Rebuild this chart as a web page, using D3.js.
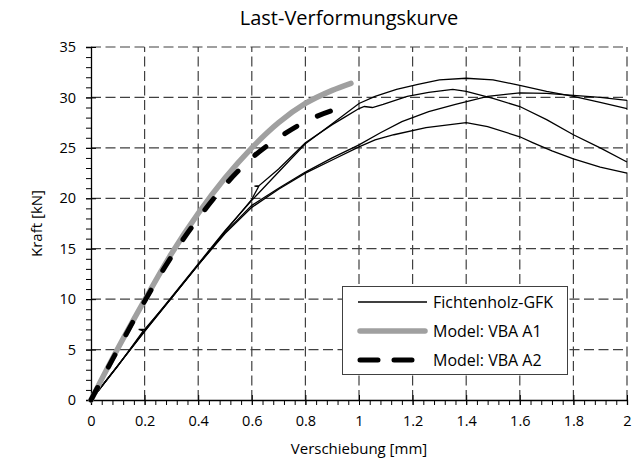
<!DOCTYPE html>
<html>
  <head>
    <meta charset="utf-8">
    <title>Last-Verformungskurve</title>
    <script src="https://cdn.jsdelivr.net/npm/d3@7"></script>
    <style>
      body { margin: 0; background: #fff; }
      text { font-family: "Open Sans", "Noto Sans", sans-serif; fill: #000; }
    </style>
  </head>

  <body>
    <div id="chart"></div>

    <script>
      // measured curves (Fichtenholz-GFK), displacement [mm] / force [kN]
      let testA = [[0, 0], [0.1, 3.4], [0.2, 6.9], [0.3, 10.2], [0.4, 13.5], [0.5, 16.8], [0.6, 19.8], [0.7, 22.6], [0.8, 25.4], [0.9, 27.4], [1.0, 29.4], [1.06, 30.1], [1.14, 30.8], [1.22, 31.3], [1.3, 31.75], [1.4, 31.9], [1.5, 31.75], [1.6, 31.2], [1.7, 30.6], [1.8, 30.1], [1.9, 29.5], [2.0, 28.9]];
      let testB = [[0, 0], [0.1, 3.35], [0.195, 6.85], [0.178, 7.0], [0.2, 7.0], [0.3, 10.1], [0.4, 13.4], [0.5, 16.7], [0.6, 19.9], [0.625, 21.15], [0.61, 21.2], [0.627, 21.25], [0.7, 22.9], [0.8, 25.5], [0.9, 27.3], [0.95, 28.1], [1.0, 28.9], [1.02, 29.1], [1.05, 29.0], [1.09, 29.3], [1.18, 30.1], [1.26, 30.5], [1.35, 30.8], [1.4, 30.6], [1.5, 29.9], [1.6, 29.1], [1.7, 27.8], [1.8, 26.3], [1.9, 25.0], [2.0, 23.6]];
      let testC = [[0, 0], [0.1, 3.4], [0.2, 6.8], [0.3, 10.1], [0.4, 13.4], [0.5, 16.6], [0.6, 19.3], [0.7, 21.0], [0.8, 22.6], [0.9, 24.0], [1.0, 25.3], [1.08, 26.5], [1.16, 27.6], [1.26, 28.6], [1.36, 29.3], [1.48, 30.1], [1.6, 30.45], [1.7, 30.4], [1.8, 30.2], [1.9, 30.0], [2.0, 29.7]];
      let testD = [[0, 0], [0.1, 3.4], [0.2, 6.8], [0.3, 10.1], [0.4, 13.4], [0.5, 16.5], [0.6, 19.1], [0.7, 20.9], [0.8, 22.5], [0.9, 23.8], [1.0, 25.1], [1.06, 25.8], [1.13, 26.3], [1.25, 27.0], [1.4, 27.5], [1.48, 27.1], [1.6, 26.1], [1.65, 25.5], [1.72, 24.7], [1.8, 23.9], [1.9, 23.1], [2.0, 22.5]];

      // model curves
      let modelA1 = [[0, 0], [0.1, 5.1], [0.2, 9.9], [0.3, 14.5], [0.4, 18.5], [0.5, 22.0], [0.6, 25.0], [0.7, 27.5], [0.8, 29.4], [0.9, 30.7], [0.97, 31.4]];
      let modelA2 = [[0, 0], [0.1, 5.0], [0.2, 9.8], [0.3, 14.2], [0.4, 18.0], [0.5, 21.3], [0.6, 24.0], [0.7, 26.0], [0.8, 27.6], [0.9, 28.7], [0.97, 29.2]];

      let xTicks = [0, 0.2, 0.4, 0.6, 0.8, 1, 1.2, 1.4, 1.6, 1.8, 2];
      let yTicks = [0, 5, 10, 15, 20, 25, 30, 35];
      let legendLabels = ["Fichtenholz-GFK", "Model: VBA A1", "Model: VBA A2"];

      let width = 643, height = 468;
      let margin = { top: 47, right: 16, bottom: 68, left: 91 };

      let svg = d3.select("#chart")
        .append("svg")
          .attr("width", width)
          .attr("height", height);

      let x = d3.scaleLinear()
        .domain([0, 2])
        .range([margin.left, width - margin.right]);
      let y = d3.scaleLinear()
        .domain([0, 35])
        .range([height - margin.bottom, margin.top]);

      // dashed grid
      let grid = svg.append("g")
        .attr("stroke", "#404040")
        .attr("stroke-width", 1.2)
        .attr("stroke-dasharray", "10,4.5");
      grid.selectAll(".gx")
          .data(xTicks.slice(1))
        .enter().append("line")
          .attr("x1", function(d) { return x(d); })
          .attr("x2", function(d) { return x(d); })
          .attr("y1", y(0))
          .attr("y2", y(35));
      grid.selectAll(".gy")
          .data(yTicks.slice(1))
        .enter().append("line")
          .attr("x1", x(0))
          .attr("x2", x(2))
          .attr("y1", function(d) { return y(d); })
          .attr("y2", function(d) { return y(d); });

      // minor ticks
      let xMinor = d3.range(0, 2.0001, 0.04);
      let yMinor = d3.range(0, 35.0001, 1);
      svg.append("g")
        .attr("transform", "translate(0," + y(0) + ")")
        .call(d3.axisBottom(x).tickValues(xMinor).tickSize(5).tickFormat(""))
        .call(function(g) { g.select(".domain").remove(); });
      svg.append("g")
        .attr("transform", "translate(" + x(0) + ",0)")
        .call(d3.axisLeft(y).tickValues(yMinor).tickSize(5).tickFormat(""))
        .call(function(g) { g.select(".domain").remove(); });

      // main axes
      let xAxis = svg.append("g")
        .attr("transform", "translate(0," + y(0) + ")")
        .call(d3.axisBottom(x).tickValues(xTicks).tickSize(5).tickPadding(11)
          .tickFormat(function(d) { return String(d); }));
      xAxis.selectAll(".tick line").attr("y1", -5);
      xAxis.selectAll("text").attr("font-size", 14.5).attr("font-family", "Open Sans");
      let yAxis = svg.append("g")
        .attr("transform", "translate(" + x(0) + ",0)")
        .call(d3.axisLeft(y).tickValues(yTicks).tickSize(5).tickPadding(10));
      yAxis.selectAll(".tick line").attr("x1", 5);
      yAxis.selectAll("text").attr("font-size", 14.5).attr("font-family", "Open Sans");
      svg.selectAll(".domain").attr("stroke", "#000").attr("stroke-width", 1.3);
      svg.selectAll(".tick line").attr("stroke", "#000");

      // curves
      let line = d3.line()
        .x(function(d) { return x(d[0]); })
        .y(function(d) { return y(d[1]); });

      svg.selectAll(".test")
          .data([testA, testB, testC, testD])
        .enter().append("path")
          .attr("d", line)
          .attr("fill", "none")
          .attr("stroke", "#000")
          .attr("stroke-width", 1.3);

      let curvy = d3.line()
        .x(function(d) { return x(d[0]); })
        .y(function(d) { return y(d[1]); })
        .curve(d3.curveMonotoneX);

      svg.append("path")
        .attr("d", curvy(modelA1))
        .attr("fill", "none")
        .attr("stroke", "#a0a0a0")
        .attr("stroke-width", 5.5)
        .attr("stroke-linecap", "round");
      svg.append("path")
        .attr("d", curvy(modelA2))
        .attr("fill", "none")
        .attr("stroke", "#000")
        .attr("stroke-width", 5)
        .attr("stroke-linecap", "round")
        .attr("stroke-dasharray", "14,23");

      // legend
      let legend = svg.append("g");
      legend.append("rect")
        .attr("x", 342.5)
        .attr("y", 286.5)
        .attr("width", 225)
        .attr("height", 88)
        .attr("fill", "#fff")
        .attr("stroke", "#404040")
        .attr("stroke-width", 1);
      let legendStyles = [
        { stroke: "#000", width: 1.3, dash: null },
        { stroke: "#a0a0a0", width: 5.5, dash: null },
        { stroke: "#000", width: 5, dash: "18,16" }
      ];
      legendLabels.forEach(function(label, i) {
        let ly = 302 + i * 29;
        let s = legendStyles[i];
        legend.append("line")
          .attr("x1", i == 0 ? 358 : 360)
          .attr("x2", i == 0 ? 427 : 425)
          .attr("y1", ly)
          .attr("y2", ly)
          .attr("stroke", s.stroke)
          .attr("stroke-width", s.width)
          .attr("stroke-linecap", i == 0 ? "butt" : "round")
          .attr("stroke-dasharray", s.dash);
        legend.append("text")
          .attr("x", 433)
          .attr("y", ly)
          .attr("dy", "0.35em")
          .attr("font-size", 16)
          .text(label);
      });

      // titles
      svg.append("text")
        .attr("x", 349)
        .attr("y", 25)
        .attr("text-anchor", "middle")
        .attr("font-size", 20)
        .text("Last-Verformungskurve");
      svg.append("text")
        .attr("x", (x(0) + x(2)) / 2)
        .attr("y", 454)
        .attr("text-anchor", "middle")
        .attr("font-size", 15)
        .text("Verschiebung [mm]");
      svg.append("text")
        .attr("transform", "translate(42," + (y(0) + y(35)) / 2 + ") rotate(-90)")
        .attr("text-anchor", "middle")
        .attr("font-size", 15)
        .text("Kraft [kN]");
    </script>
  </body>
</html>
